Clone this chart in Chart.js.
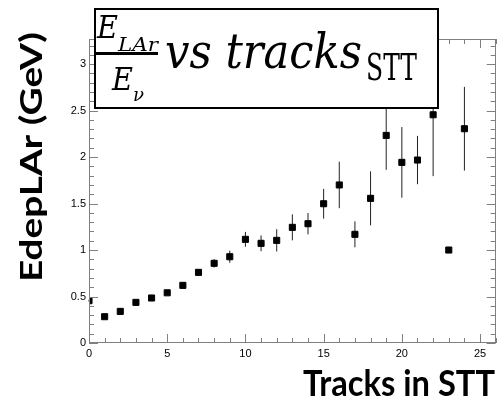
<!DOCTYPE html>
<html>
<head>
<meta charset="utf-8">
<script src="https://cdn.jsdelivr.net/npm/chart.js@4.4.0/dist/chart.umd.min.js"></script>
<style>
  html, body { margin: 0; padding: 0; background: #fff; }
  #wrap { width: 501px; height: 401px; }
</style>
</head>
<body>
<div id="wrap"><canvas id="mainChart" width="501" height="401"></canvas></div>
<script>
const tracks = [0, 1, 2, 3, 4, 5, 6, 7, 8, 9, 10, 11, 12, 13, 14, 15, 16, 17, 18, 19, 20, 21, 22, 23, 24];
const edep = [0.455, 0.283, 0.34, 0.437, 0.484, 0.54, 0.62, 0.76, 0.857, 0.928, 1.115, 1.072, 1.104,
  1.244, 1.283, 1.498, 1.70, 1.169, 1.556, 2.233, 1.943, 1.968, 2.455, 1.0, 2.305];
const edepErr = [0.01, 0.01, 0.01, 0.012, 0.015, 0.015, 0.02, 0.03, 0.045, 0.065, 0.08, 0.085, 0.12,
  0.14, 0.115, 0.16, 0.25, 0.14, 0.29, 0.37, 0.38, 0.26, 0.66, 0, 0.45];
const xTickValues = [0, 5, 10, 15, 20, 25];
const yTickValues = [0, 0.5, 1, 1.5, 2, 2.5, 3];
const xTitle = 'Tracks in STT';
const yTitle = 'EdepLAr (GeV)';

document.addEventListener('DOMContentLoaded', function () {
  const ctx = document.getElementById('mainChart');
  if (!ctx) return;

  const axisColor = '#808080';

  // draw text squeezed/stretched to a given width
  const fitText = (c, text, font, x, y, width, align) => {
    c.font = font;
    const w = c.measureText(text).width;
    c.save();
    c.translate(x, y);
    c.scale(width / w, 1);
    c.textAlign = align || 'left';
    c.textBaseline = 'alphabetic';
    c.fillText(text, 0, 0);
    c.restore();
  };

  const errorBars = {
    id: 'errorBars',
    beforeDatasetsDraw(chart) {
      const c = chart.ctx;
      const xs = chart.scales.x, ys = chart.scales.y;
      c.save();
      c.strokeStyle = '#222';
      c.lineWidth = 1;
      tracks.forEach((t, i) => {
        if (!edepErr[i]) return;
        const px = xs.getPixelForValue(t);
        c.beginPath();
        c.moveTo(px, ys.getPixelForValue(edep[i] - edepErr[i]));
        c.lineTo(px, ys.getPixelForValue(edep[i] + edepErr[i]));
        c.stroke();
      });
      c.restore();
    },
  };

  const frame = {
    id: 'frame',
    afterDatasetsDraw(chart) {
      const c = chart.ctx;
      const a = chart.chartArea;
      const xs = chart.scales.x, ys = chart.scales.y;
      c.save();
      c.strokeStyle = axisColor;
      c.lineWidth = 1;
      c.strokeRect(Math.round(a.left) + 0.5, Math.round(a.top) + 0.5,
        Math.round(a.right - a.left) - 1, Math.round(a.bottom - a.top) - 1);
      c.beginPath();
      for (let v = 0; v <= 26; v++) {
        const px = Math.round(xs.getPixelForValue(v)) + 0.5;
        const len = v % 5 === 0 ? 9 : 5;
        c.moveTo(px, a.bottom); c.lineTo(px, a.bottom - len);
        c.moveTo(px, a.top); c.lineTo(px, a.top + len);
      }
      for (let k = 0; k <= 32; k++) {
        const py = Math.round(ys.getPixelForValue(k / 10)) + 0.5;
        const len = k % 5 === 0 ? 9 : 5;
        c.moveTo(a.left, py); c.lineTo(a.left + len, py);
        c.moveTo(a.right, py); c.lineTo(a.right - len, py);
      }
      c.stroke();
      c.restore();
    },
  };

  const titles = {
    id: 'titles',
    afterDraw(chart) {
      const c = chart.ctx;
      c.save();
      c.fillStyle = '#000';

      // axis titles
      fitText(c, xTitle, 'bold 37px Lato', 495, 396, 192, 'right');
      c.save();
      c.translate(42, 157);
      c.rotate(-Math.PI / 2);
      fitText(c, yTitle, 'bold 30px Lato', 0, 0, 250, 'center');
      c.restore();

      // title box
      c.fillStyle = '#fff';
      c.fillRect(95, 9, 343, 99);
      c.strokeStyle = '#000';
      c.lineWidth = 2;
      c.strokeRect(95, 9, 343, 99);
      c.fillStyle = '#000';
      fitText(c, 'E', 'italic 31px "DejaVu Serif"', 97, 38, 21);
      fitText(c, 'LAr', 'italic 19px "DejaVu Serif"', 118, 51, 40);
      c.fillRect(95, 52, 63, 3);
      fitText(c, 'E', 'italic 31px "DejaVu Serif"', 112, 90, 21);
      fitText(c, 'ν', 'italic 19px "DejaVu Serif"', 133, 101, 11);
      fitText(c, 'vs tracks', 'italic 49px "DejaVu Serif"', 165, 68, 197);
      fitText(c, 'STT', '38px "DejaVu Serif"', 366, 80, 51);
      c.restore();
    },
  };

  const chart = new Chart(ctx, {
    type: 'scatter',
    data: {
      datasets: [
        {
          label: 'EdepLAr',
          data: tracks.map((t, i) => ({ x: t, y: edep[i] })),
          backgroundColor: '#000',
          borderColor: '#000',
          pointStyle: 'rect',
          pointRadius: 4.3,
          pointBorderWidth: 1,
        },
      ],
    },
    options: {
      responsive: false,
      animation: false,
      layout: { padding: { top: 39, right: 2, left: 0, bottom: 0 } },
      plugins: {
        legend: { display: false },
        tooltip: { enabled: false },
      },
      scales: {
        x: {
          type: 'linear',
          min: 0,
          max: 26,
          afterBuildTicks: (s) => { s.ticks = xTickValues.map((v) => ({ value: v })); },
          afterFit: (s) => { s.height = 58; },
          grid: { display: false, drawTicks: false },
          border: { display: false },
          ticks: {
            padding: 4,
            maxRotation: 0,
            autoSkip: false,
            color: '#000',
            font: { family: 'Liberation Sans', size: 11 },
            callback: (v) => String(v),
          },
        },
        y: {
          type: 'linear',
          min: 0,
          max: 3.27,
          afterBuildTicks: (s) => { s.ticks = yTickValues.map((v) => ({ value: v })); },
          afterFit: (s) => { s.width = 89; },
          grid: { display: false, drawTicks: false },
          border: { display: false },
          ticks: {
            padding: 3,
            autoSkip: false,
            color: '#000',
            font: { family: 'Liberation Sans', size: 11 },
            callback: (v) => String(v),
          },
        },
      },
    },
    plugins: [errorBars, frame, titles],
  });
});
</script>
</body>
</html>
